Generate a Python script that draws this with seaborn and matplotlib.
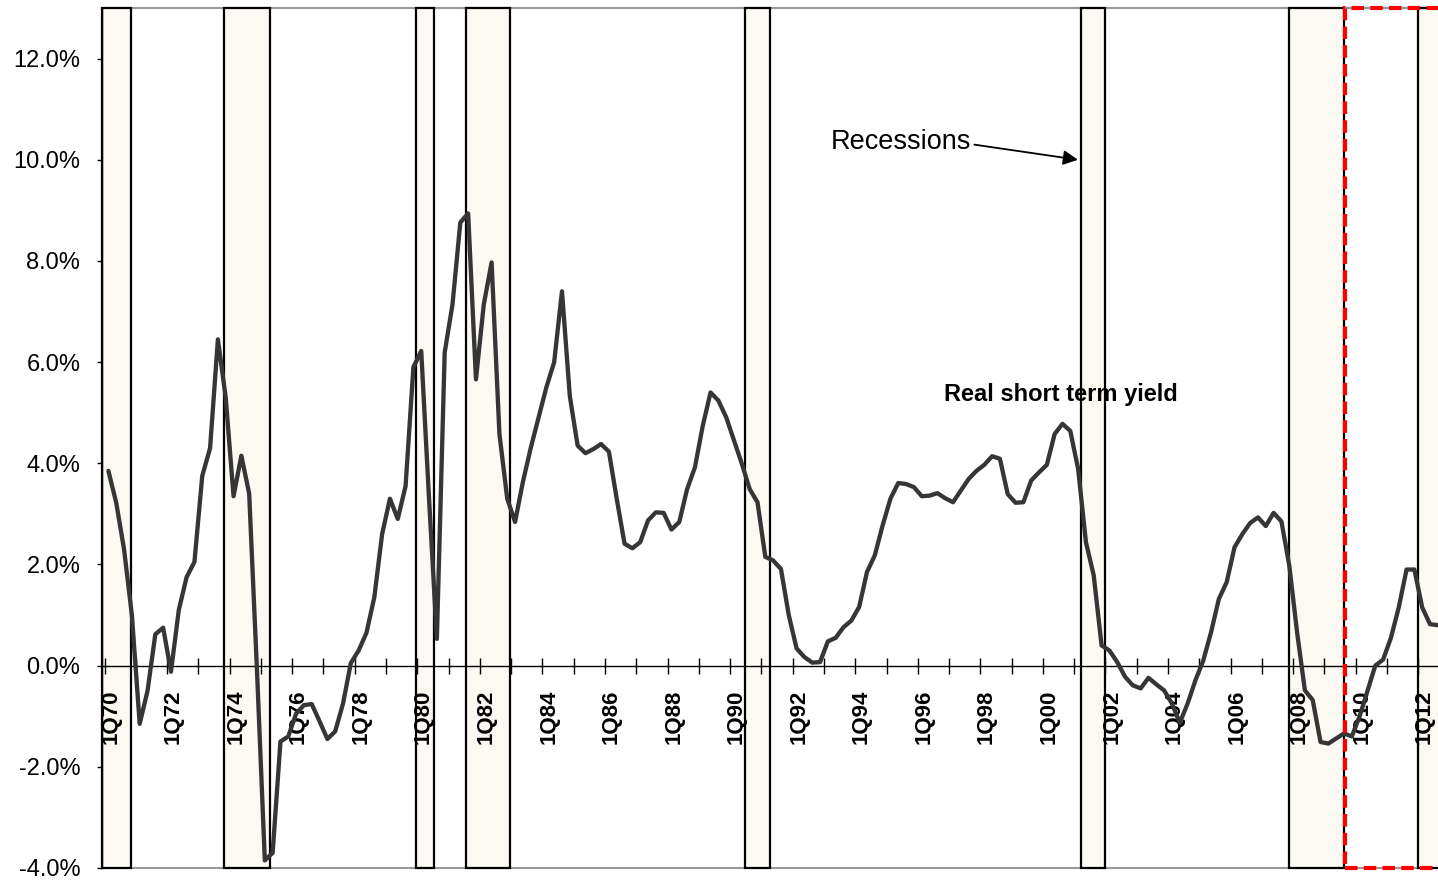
import numpy as np
import pandas as pd
import matplotlib
matplotlib.use('Agg')
import matplotlib.pyplot as plt
import seaborn as sns
from matplotlib.patches import Rectangle
from matplotlib.ticker import FixedLocator, FuncFormatter

# Real short term yield, quarterly from 1Q70 (% values)
real_yield = [
    3.85, 3.22, 2.30, 1.00,   # 1970
    -1.15, -0.50, 0.62, 0.75,  # 1971
    -0.12, 1.10, 1.75, 2.05,  # 1972
    3.75, 4.30, 6.45, 5.30,   # 1973
    3.35, 4.15, 3.40, -0.10,  # 1974
    -3.85, -3.70, -1.50, -1.40,  # 1975
    -0.95, -0.78, -0.76, -1.10,  # 1976
    -1.45, -1.30, -0.75, 0.05,  # 1977
    0.30, 0.65, 1.35, 2.60,   # 1978
    3.30, 2.90, 3.55, 5.90,   # 1979
    6.22, 3.30, 0.53, 6.19,   # 1980
    7.14, 8.76, 8.94, 5.66,   # 1981
    7.14, 7.97, 4.58, 3.30,   # 1982
    2.84, 3.63, 4.30, 4.90,   # 1983
    5.50, 6.00, 7.40, 5.33,   # 1984
    4.35, 4.20, 4.28, 4.38,   # 1985
    4.23, 3.30, 2.41, 2.32,   # 1986
    2.44, 2.87, 3.03, 3.02,   # 1987
    2.69, 2.84, 3.49, 3.92,   # 1988
    4.74, 5.40, 5.24, 4.91,   # 1989
    4.45, 3.99, 3.49, 3.23,   # 1990
    2.15, 2.08, 1.91, 1.00,   # 1991
    0.34, 0.17, 0.06, 0.07,   # 1992
    0.48, 0.55, 0.76, 0.89,   # 1993
    1.16, 1.85, 2.18, 2.77,   # 1994
    3.30, 3.61, 3.59, 3.53,   # 1995
    3.35, 3.36, 3.41, 3.31,   # 1996
    3.23, 3.46, 3.69, 3.85,   # 1997
    3.97, 4.14, 4.09, 3.39,   # 1998
    3.22, 3.23, 3.66, 3.82,   # 1999
    3.97, 4.58, 4.78, 4.64,   # 2000
    3.89, 2.44, 1.78, 0.40,   # 2001
    0.30, 0.07, -0.22, -0.39,  # 2002
    -0.45, -0.24, -0.37, -0.49,  # 2003
    -0.75, -1.13, -0.75, -0.29,  # 2004
    0.10, 0.66, 1.32, 1.65,   # 2005
    2.34, 2.60, 2.82, 2.93,   # 2006
    2.76, 3.02, 2.85, 1.98,   # 2007
    0.66, -0.49, -0.68, -1.51,  # 2008
    -1.54, -1.44, -1.34, -1.40,  # 2009
    -1.00, -0.50, 0.00, 0.12,  # 2010
    0.55, 1.15, 1.90, 1.90,   # 2011
    1.15, 0.82, 0.80,         # 2012
]

# recession periods (fractional years)
rec_start = [1969.92, 1973.82, 1979.97, 1981.56, 1990.48, 2001.23, 2007.87, 2012.00]
rec_end = [1970.85, 1975.29, 1980.54, 1982.96, 1991.28, 2001.98, 2009.64, 2014.00]

# highlighted period (red dashed box)
highlight_start = 2009.66

tick_labels = ['1Q70', '1Q72', '1Q74', '1Q76', '1Q78', '1Q80', '1Q82', '1Q84',
               '1Q86', '1Q88', '1Q90', '1Q92', '1Q94', '1Q96', '1Q98', '1Q00',
               '1Q02', '1Q04', '1Q06', '1Q08', '1Q10', '1Q12']
tick_years = list(range(1970, 2013, 2))

quarters = pd.period_range('1970Q1', periods=len(real_yield), freq='Q')
df = pd.DataFrame({
    'pos': quarters.year + (quarters.quarter - 0.5) / 4,
    'real_yield': real_yield,
})

sns.set_style('white')
plt.rcParams['font.family'] = ['Liberation Sans', 'DejaVu Sans']
plt.rcParams['text.color'] = 'black'
plt.rcParams['xtick.color'] = 'black'
plt.rcParams['ytick.color'] = 'black'

fig = plt.figure(figsize=(14.38, 8.81), dpi=100)
ax = fig.add_axes([102 / 1438, 13 / 881, 1 - 102 / 1438, 860 / 881])

# grey frame lines at top and bottom of the plot area (under the boxes)
ax.axhline(13, color='#999999', linewidth=1.5, clip_on=False, zorder=0.5)
ax.axhline(-4, color='#999999', linewidth=1.5, clip_on=False, zorder=0.5)

for s, e in zip(rec_start, rec_end):
    ax.add_patch(Rectangle((s, -4), e - s, 17, facecolor='#fcf9f3', edgecolor='black',
                           linewidth=1.6, zorder=0.8, clip_on=False))

sns.lineplot(data=df, x='pos', y='real_yield', ax=ax, color='#363636', linewidth=3.1, zorder=3)

ax.add_patch(Rectangle((highlight_start, -4), 10, 17, fill=False, edgecolor='#ff0000',
                       linewidth=3, linestyle=(0, (3, 1.5)), zorder=4, clip_on=False))

ax.set_xlim(1969.92, 2012.63)
ax.set_ylim(-4, 13)
ax.set_xlabel('')
ax.set_ylabel('')

# axes frame; ticks and labels drawn above the recession boxes
ax.set_axisbelow(False)
ax.xaxis.set_zorder(2)
ax.yaxis.set_zorder(2)
ax.spines['right'].set_visible(False)
ax.spines['top'].set_visible(False)
ax.spines['left'].set_color('black')
ax.spines['left'].set_linewidth(1)
ax.spines['bottom'].set_position(('data', 0))
ax.spines['bottom'].set_color('black')
ax.spines['bottom'].set_linewidth(1)

# x axis: year ticks on the zero line, labels every two years
ax.xaxis.set_major_locator(FixedLocator(range(1970, 2013)))
ax.tick_params(axis='x', which='major', direction='inout', length=11, width=1,
               color='black', labelbottom=False, bottom=True)
ax.set_xticks([y + 0.2 for y in tick_years], minor=True)
ax.set_xticklabels(tick_labels, minor=True, rotation=90, fontweight='bold', fontsize=16,
                   color='black')
ax.tick_params(axis='x', which='minor', length=0, pad=17)

# y axis
ax.set_yticks(range(-4, 13, 2))
ax.yaxis.set_major_formatter(FuncFormatter(lambda v, _: f'{v:.1f}%'))
ax.tick_params(axis='y', direction='out', length=3.6, width=1, color='black',
               labelcolor='black', labelsize=17, pad=12, left=True)

ax.annotate('Recessions', xy=(2001.12, 10.0), xytext=(1995.46, 10.36),
            fontsize=19.5, ha='center', va='center', zorder=5, color='black',
            arrowprops=dict(arrowstyle='-|>', color='black', lw=1.3, shrinkA=0, shrinkB=0,
                            mutation_scale=22, relpos=(1.0, 0.4)))
ax.text(2000.58, 5.35, 'Real short term yield', fontsize=17, fontweight='bold',
        ha='center', va='center', zorder=5, color='black')

fig.savefig('out.png', dpi=100)
plt.close(fig)
